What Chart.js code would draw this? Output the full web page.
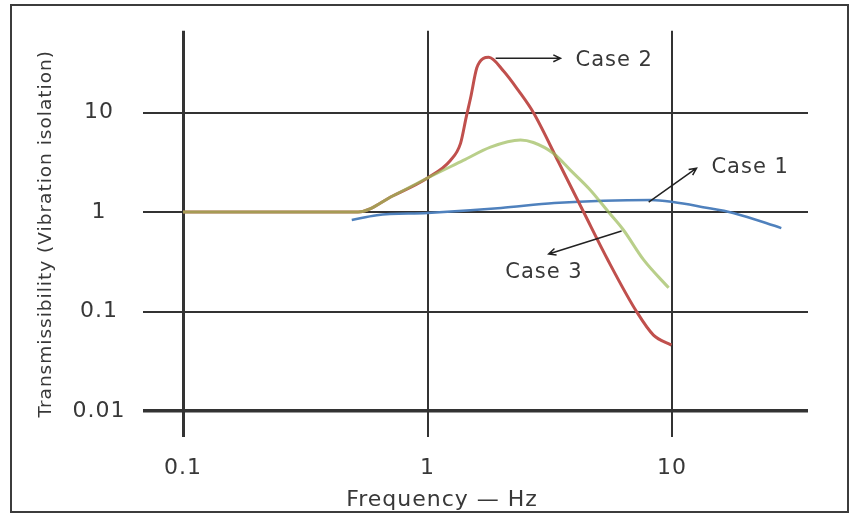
<!DOCTYPE html>
<html>
<head>
<meta charset="utf-8">
<script src="https://cdn.jsdelivr.net/npm/chart.js@4.4.1/dist/chart.umd.min.js"></script>
<style>
  html, body { margin: 0; padding: 0; background: #fff; }
  #wrap { position: relative; width: 849px; height: 514px; }
  #frame { position: absolute; left: 10px; top: 4px; width: 835px; height: 505px;
           border: 2px solid #3c3c3c; pointer-events: none; }
</style>
</head>
<body>
<div id="wrap">
  <canvas id="chart" width="849" height="514"></canvas>
  <div id="frame"></div>
</div>
<script>
// axis ticks
const xTicks = [0.1, 1, 10];
const xTickLabels = ["0.1", "1", "10"];
const yTicks = [0.01, 0.1, 1, 10];
const yTickLabels = ["0.01", "0.1", "1", "10"];

// Case 1 (blue)
const case1Freq  = [0.49, 0.62, 1.0, 2.0, 3.3, 8.2, 10.1, 13.4, 17.8, 28];
const case1Trans = [0.83, 0.93, 0.98, 1.1, 1.23, 1.32, 1.26, 1.12, 0.98, 0.69];

// Case 2 (red)
const case2Freq  = [0.1, 0.3, 0.52, 0.72, 1.0, 1.24, 1.365, 1.44, 1.5, 1.59, 1.69, 1.78,
                    2.05, 2.36, 2.71, 3.43, 4.35, 5.5, 7.16, 8.4, 9.95];
const case2Trans = [1, 1, 1, 1.45, 2.2, 3.3, 4.9, 9, 14, 28, 35, 36,
                    26, 16.5, 10, 3.2, 1, 0.32, 0.1, 0.058, 0.046];

// Case 3 (green)
const case3Freq  = [0.1, 0.3, 0.52, 0.72, 1.0, 1.4, 1.81, 2.4, 2.71, 3.27, 3.84, 4.64,
                    5.5, 6.33, 7.66, 9.69];
const case3Trans = [1, 1, 1, 1.45, 2.2, 3.3, 4.5, 5.3, 5.0, 3.9, 2.64, 1.66,
                    1.0, 0.66, 0.33, 0.173];

const caseLabels = ["Case 1", "Case 2", "Case 3"];

// callouts, in data units: arrow start, arrow end, text anchor (left edge)
const callouts = [
  { text: "Case 1", from: [8.03, 1.26], to: [12.6, 2.76], at: [14.5, 2.8] },
  { text: "Case 2", from: [1.9, 35.1],  to: [3.5, 35.1],  at: [4.03, 33.5] },
  { text: "Case 3", from: [6.22, 0.645], to: [3.13, 0.379], at: [2.08, 0.244] },
];

const font = "'DejaVu Sans', Verdana, sans-serif";
const textColor = "#383838";

const pts = (xs, ys) => xs.map((x, i) => ({ x, y: ys[i] }));

// a little letter spacing so the text is as wide as in the picture
const spacing = {
  id: "spacing",
  beforeLayout(chart) { chart.ctx.letterSpacing = "1px"; },
  beforeDraw(chart) { chart.ctx.letterSpacing = "1px"; },
};

const calloutPlugin = {
  id: "callouts",
  afterDatasetsDraw(chart) {
    const { ctx, scales: { x, y } } = chart;
    ctx.save();
    ctx.strokeStyle = "#222";
    ctx.lineWidth = 1.5;
    callouts.forEach(c => {
      const x1 = x.getPixelForValue(c.from[0]), y1 = y.getPixelForValue(c.from[1]);
      const x2 = x.getPixelForValue(c.to[0]), y2 = y.getPixelForValue(c.to[1]);
      const ang = Math.atan2(y2 - y1, x2 - x1);
      ctx.beginPath();
      ctx.moveTo(x1, y1);
      ctx.lineTo(x2, y2);
      ctx.moveTo(x2 - 8 * Math.cos(ang - 0.45), y2 - 8 * Math.sin(ang - 0.45));
      ctx.lineTo(x2, y2);
      ctx.lineTo(x2 - 8 * Math.cos(ang + 0.45), y2 - 8 * Math.sin(ang + 0.45));
      ctx.stroke();
    });
    ctx.fillStyle = textColor;
    ctx.font = "21px " + font;
    ctx.textAlign = "left";
    ctx.textBaseline = "middle";
    callouts.forEach(c => {
      ctx.fillText(c.text, x.getPixelForValue(c.at[0]), y.getPixelForValue(c.at[1]));
    });
    ctx.restore();
  },
};

new Chart(document.getElementById("chart"), {
  type: "line",
  data: {
    datasets: [
      {
        label: caseLabels[0],
        data: pts(case1Freq, case1Trans),
        borderColor: "#4f81bd",
        borderWidth: 2.5,
        order: 3,
      },
      {
        label: caseLabels[1],
        data: pts(case2Freq, case2Trans),
        borderColor: "#c0504d",
        borderWidth: 3,
        order: 2,
      },
      {
        label: caseLabels[2],
        data: pts(case3Freq, case3Trans),
        borderColor: "rgba(155,187,89,0.7)",
        borderWidth: 3,
        order: 1,
      },
    ],
  },
  options: {
    responsive: false,
    animation: false,
    devicePixelRatio: 1,
    layout: { padding: { top: 30, right: 0, left: 35, bottom: 0 } },
    elements: {
      point: { radius: 0 },
      line: { cubicInterpolationMode: "monotone", fill: false },
    },
    plugins: {
      legend: { display: false },
      tooltip: { enabled: false },
      title: {
        display: true,
        position: "bottom",
        text: "Frequency \u2014 Hz",
        color: textColor,
        font: { family: font, size: 22, weight: "normal" },
        padding: { top: 0, bottom: 1 },
      },
    },
    scales: {
      x: {
        type: "logarithmic",
        min: 0.0686,
        max: 36,
        afterBuildTicks: s => { s.ticks = xTicks.map(v => ({ value: v })); },
        afterFit: s => { s.height = 514 - 437 - 27.4; },
        border: { display: false },
        grid: {
          color: "#333",
          lineWidth: c => (c.tick && c.tick.value === 0.1 ? 3 : 2),
          drawTicks: false,
        },
        ticks: {
          autoSkip: false,
          maxRotation: 0,
          padding: 18,
          color: textColor,
          font: { family: font, size: 22 },
          callback: (v, i) => xTickLabels[i],
        },
      },
      y: {
        type: "logarithmic",
        min: 0.00548,
        max: 66.5,
        afterBuildTicks: s => { s.ticks = yTicks.map(v => ({ value: v })); },
        afterFit: s => { s.width = 108; },
        border: { display: false },
        grid: {
          color: "#333",
          lineWidth: c => (c.tick && c.tick.value === 0.01 ? 3.5 : 2),
          drawTicks: false,
        },
        ticks: {
          autoSkip: false,
          crossAlign: "center",
          padding: 17.5,
          color: textColor,
          font: { family: font, size: 22 },
          callback: (v, i) => yTickLabels[i],
        },
        title: {
          display: true,
          text: "Transmissibility (Vibration isolation)",
          color: textColor,
          font: { family: font, size: 18.5 },
          padding: { top: 0, bottom: 0 },
        },
      },
      // empty right-hand strip so the plot ends where it does in the picture
      yRight: {
        position: "right",
        type: "linear",
        display: true,
        border: { display: false },
        grid: { display: false, drawTicks: false },
        ticks: { display: false },
        afterFit: s => { s.width = 41; },
      },
    },
  },
  plugins: [spacing, calloutPlugin],
});
</script>
</body>
</html>
